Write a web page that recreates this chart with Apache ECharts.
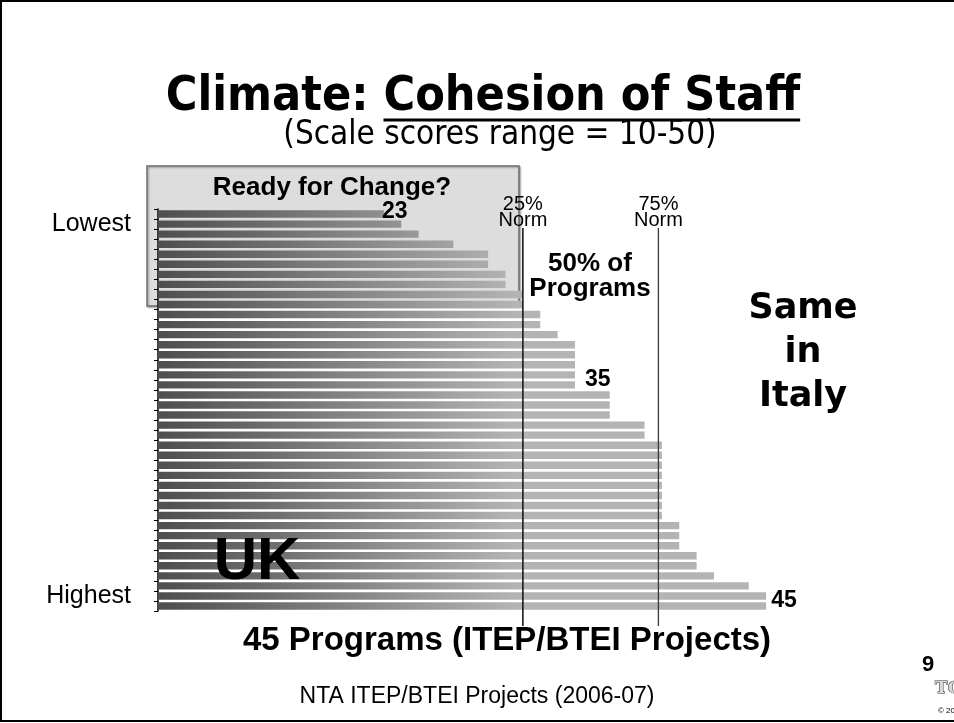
<!DOCTYPE html>
<html>
<head>
<meta charset="utf-8">
<script src="https://cdn.jsdelivr.net/npm/echarts@6/dist/echarts.min.js"></script>
<style>
html,body{margin:0;padding:0;background:#fff;}
#chart{width:954px;height:723px;}
</style>
</head>
<body>
<div id="chart"></div>
<script>
// ---- data ----
const categories = ['', 'Lowest', '', '', '', '', '', '', '', '', '', '', '', '', '', '', '', '', '', '',
                    '', '', '', '', '', '', '', '', '', '', '', '', '', '', '', '', '', '', 'Highest', ''];
const scores = [23, 24, 25, 27, 29, 29, 30, 30, 31, 31, 32, 32, 33, 34, 34, 34, 34, 34, 36, 36,
                36, 38, 38, 39, 39, 39, 39, 39, 39, 39, 39, 40, 40, 40, 41, 41, 42, 44, 45, 45];
const noteIndex = [0, 17, 39];
const noteText = ['23', '35', '45'];
const normValues = [31, 38.8];
const normLabels = ['25%\nNorm', '75%\nNorm'];
const axisMin = 10, axisMax = 50;
const titlePlain = 'Climate: ';
const titleUnderlined = 'Cohesion of Staff';

const FF = '"Liberation Sans", Arial, sans-serif';
const FC = '"DejaVu Sans Condensed", "DejaVu Sans", sans-serif';

const chart = echarts.init(document.getElementById('chart'));

// measure title to place the underline under the underlined part
const titleFont = 'bold 48px ' + FC;
const mctx = document.createElement('canvas').getContext('2d');
mctx.font = titleFont;
const wPlain = mctx.measureText(titlePlain).width;
const wFull = mctx.measureText(titlePlain + titleUnderlined).width;
const titleCx = 483;
const titleLeft = titleCx - wFull / 2;

const barGradient = new echarts.graphic.LinearGradient(159, 0, 515, 0, [
  {offset: 0, color: '#4e4e4e'},
  {offset: 1, color: '#b4b4b4'}
], true);

const noteOffsets = {0: [-2, -2], 17: [10, -5], 39: [5, -5]};

const barData = scores.map((v, i) => {
  const k = noteIndex.indexOf(i);
  if (k < 0) return v;
  return {
    value: v,
    label: {
      show: true, position: 'right', distance: 0,
      offset: noteOffsets[i],
      formatter: noteText[k],
      fontFamily: FF, fontWeight: 'bold', fontSize: 23, color: '#000'
    }
  };
});

const normSeries = normValues.map((v, i) => ({
  type: 'line', xAxisIndex: 1, yAxisIndex: 1, silent: true,
  symbol: 'circle', symbolSize: 0, showSymbol: true,
  lineStyle: {color: i === 0 ? '#1a1a1a' : '#3a3a3a', width: i === 0 ? 1.6 : 1.3},
  data: [
    [v, 0],
    {value: [v, 1], label: {show: true, position: 'top', distance: 0, formatter: normLabels[i],
      fontFamily: FF, fontSize: 20, lineHeight: 16, color: '#000', align: 'center'}}
  ],
  z: 5
}));

const option = {
  animation: false,
  backgroundColor: '#fff',
  grid: [
    {left: 158, right: 101, top: 209, height: 402},
    {left: 158, right: 101, top: 228, bottom: 97}
  ],
  xAxis: [
    {gridIndex: 0, type: 'value', min: axisMin, max: axisMax, show: false},
    {gridIndex: 1, type: 'value', min: axisMin, max: axisMax, show: false}
  ],
  yAxis: [
    {gridIndex: 0, type: 'category', data: categories, inverse: true,
      axisLine: {show: true, lineStyle: {color: '#000', width: 1.5}},
      axisTick: {show: true, length: 4, interval: 0, lineStyle: {color: '#000', width: 1}},
      axisLabel: {interval: 0, fontFamily: FF, fontSize: 25, color: '#000', margin: 27},
      splitLine: {show: false}},
    {gridIndex: 1, type: 'value', min: 0, max: 1, show: false}
  ],
  series: [
    {type: 'bar', xAxisIndex: 0, yAxisIndex: 0, data: barData, barWidth: 7.4,
      itemStyle: {color: barGradient}, silent: true, z: 3}
  ].concat(normSeries),
  graphic: [
    {type: 'polyline', z: 0, shape: {points: [[960, 1], [1, 1], [1, 721], [960, 721]]},
      style: {stroke: '#000', lineWidth: 2, fill: null}},
    {type: 'rect', z: -10, shape: {x: 147, y: 166, width: 372, height: 140},
      style: {fill: '#dddddd', stroke: '#707070', lineWidth: 1.5, shadowBlur: 2, shadowOffsetX: 1, shadowOffsetY: 1, shadowColor: 'rgba(0,0,0,0.35)'}},
    {type: 'text', z: 10, style: {text: 'Ready for Change?', x: 332, y: 188, align: 'center', verticalAlign: 'middle',
      font: 'bold 26px ' + FF, fill: '#000'}},
    {type: 'text', z: 10, style: {text: titlePlain + titleUnderlined, x: titleLeft, y: 98, align: 'left', verticalAlign: 'middle',
      font: titleFont, fill: '#000'}},
    {type: 'line', z: 10, shape: {x1: titleLeft + wPlain, y1: 120, x2: titleLeft + wFull, y2: 120}, style: {stroke: '#000', lineWidth: 3}},
    {type: 'text', z: 10, style: {text: '(Scale scores range = 10-50)', x: 500, y: 135, align: 'center', verticalAlign: 'middle',
      font: '33px ' + FC, fill: '#000'}},
    {type: 'text', z: 10, style: {text: '50% of\nPrograms', x: 590, y: 276, align: 'center', verticalAlign: 'middle',
      font: 'bold 26px ' + FF, lineHeight: 25, fill: '#000'}},
    {type: 'text', z: 10, style: {text: 'Same\nin\nItaly', x: 803, y: 353, align: 'center', verticalAlign: 'middle',
      font: 'bold 35px "DejaVu Sans", sans-serif', lineHeight: 44, fill: '#000'}},
    {type: 'text', z: 20, style: {text: 'UK', x: 257, y: 562, align: 'center', verticalAlign: 'middle',
      font: 'bold 60px ' + FF, fill: '#000'}},
    {type: 'text', z: 10, style: {text: '45 Programs (ITEP/BTEI Projects)', x: 507, y: 641, align: 'center', verticalAlign: 'middle',
      font: 'bold 33px ' + FF, fill: '#000'}},
    {type: 'text', z: 10, style: {text: 'NTA ITEP/BTEI Projects (2006-07)', x: 477, y: 697, align: 'center', verticalAlign: 'middle',
      font: '23px ' + FF, fill: '#000'}},
    {type: 'text', z: 10, style: {text: '9', x: 928, y: 665, align: 'center', verticalAlign: 'middle',
      font: 'bold 22px ' + FF, fill: '#000'}},
    {type: 'text', z: 10, style: {text: 'TCU', x: 935, y: 689, align: 'left', verticalAlign: 'middle',
      font: 'bold 17px "DejaVu Serif", serif', fill: '#d8d8d8', stroke: '#333', lineWidth: 1}},
    {type: 'text', z: 10, style: {text: '© 2007', x: 938, y: 711, align: 'left', verticalAlign: 'middle',
      font: '8px ' + FF, fill: '#000'}}
  ]
};
chart.setOption(option);
</script>
</body>
</html>
